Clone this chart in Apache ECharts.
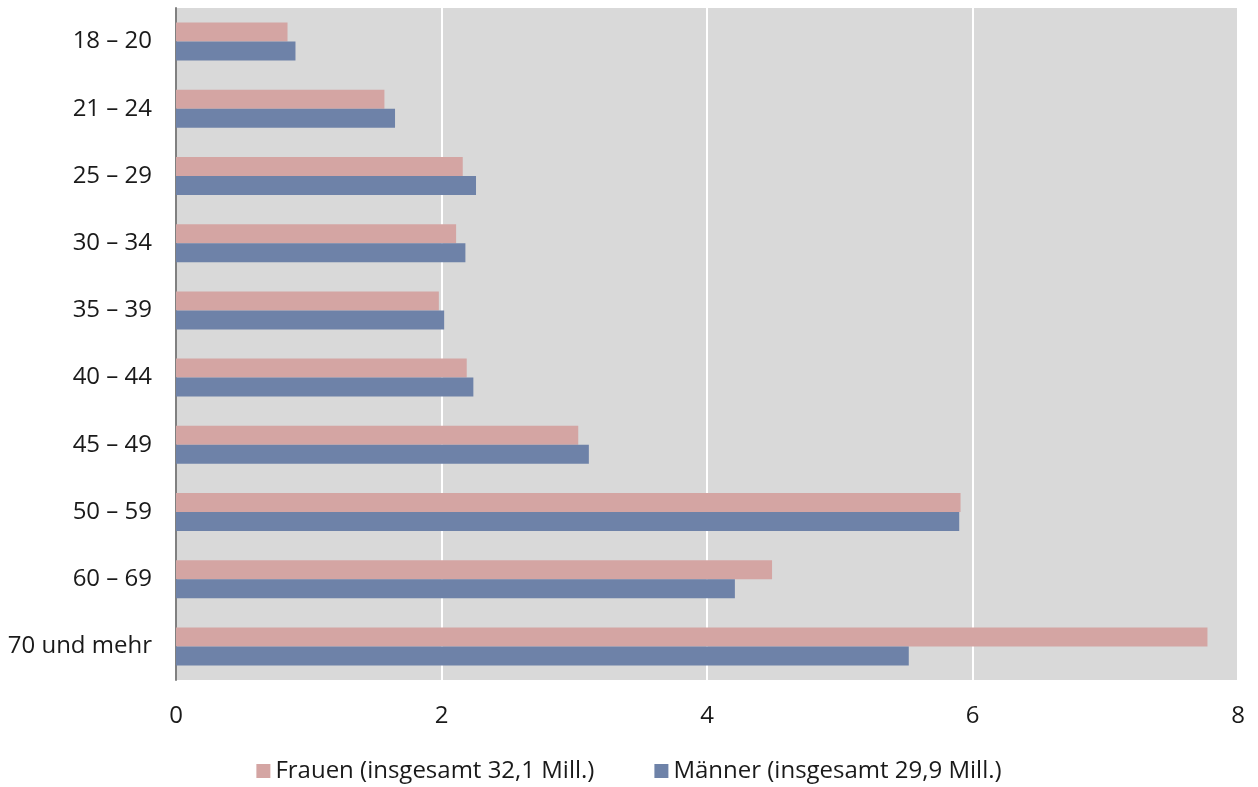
<!DOCTYPE html>
<html><head><meta charset="utf-8">
<script src="https://cdn.jsdelivr.net/npm/echarts@6/dist/echarts.min.js"></script>
<style>html,body{margin:0;padding:0;background:#fff}#c{width:1258px;height:787px}</style>
</head><body><div id="c"></div>
<script>
const categories = ['18 – 20','21 – 24','25 – 29','30 – 34','35 – 39','40 – 44','45 – 49','50 – 59','60 – 69','70 und mehr'];
const frauen = [0.84,1.57,2.16,2.11,1.98,2.19,3.03,5.91,4.49,7.77];
const maenner = [0.90,1.65,2.26,2.18,2.02,2.24,3.11,5.90,4.21,5.52];
const seriesNames = ['Frauen (insgesamt 32,1 Mill.)','Männer (insgesamt 29,9 Mill.)'];
const xTicks = [0,2,4,6,8];

const font = 'Open Sans';
const chart = echarts.init(document.getElementById('c'));
chart.setOption({
  animation:false,
  textStyle:{fontFamily:font},
  grid:{left:176,top:8,width:1062,height:672,backgroundColor:'#d9d9d9',show:true,borderWidth:0},
  legend:{top:754,left:'center',itemWidth:14,itemHeight:14,itemGap:60,icon:'rect',
    textStyle:{fontSize:24,color:'#1a1a1a',fontFamily:font},data:seriesNames},
  xAxis:{type:'value',min:xTicks[0],max:xTicks[xTicks.length-1],interval:2,
    axisLine:{show:false},axisTick:{show:false},
    splitLine:{show:true,lineStyle:{color:'#ffffff',width:2}},
    axisLabel:{fontSize:24,color:'#1a1a1a',margin:24,fontFamily:font}},
  yAxis:{type:'category',data:categories,inverse:true,
    axisLine:{show:true,lineStyle:{color:'#808080',width:2}},axisTick:{show:false},
    axisLabel:{fontSize:24,color:'#1a1a1a',margin:24,fontFamily:font}},
  series:[
    {name:seriesNames[0],type:'bar',data:frauen,barWidth:19,barGap:'0%',itemStyle:{color:'#d4a5a3'}},
    {name:seriesNames[1],type:'bar',data:maenner,barWidth:19,barGap:'0%',itemStyle:{color:'#6e82a8'}}
  ]
});
</script></body></html>
